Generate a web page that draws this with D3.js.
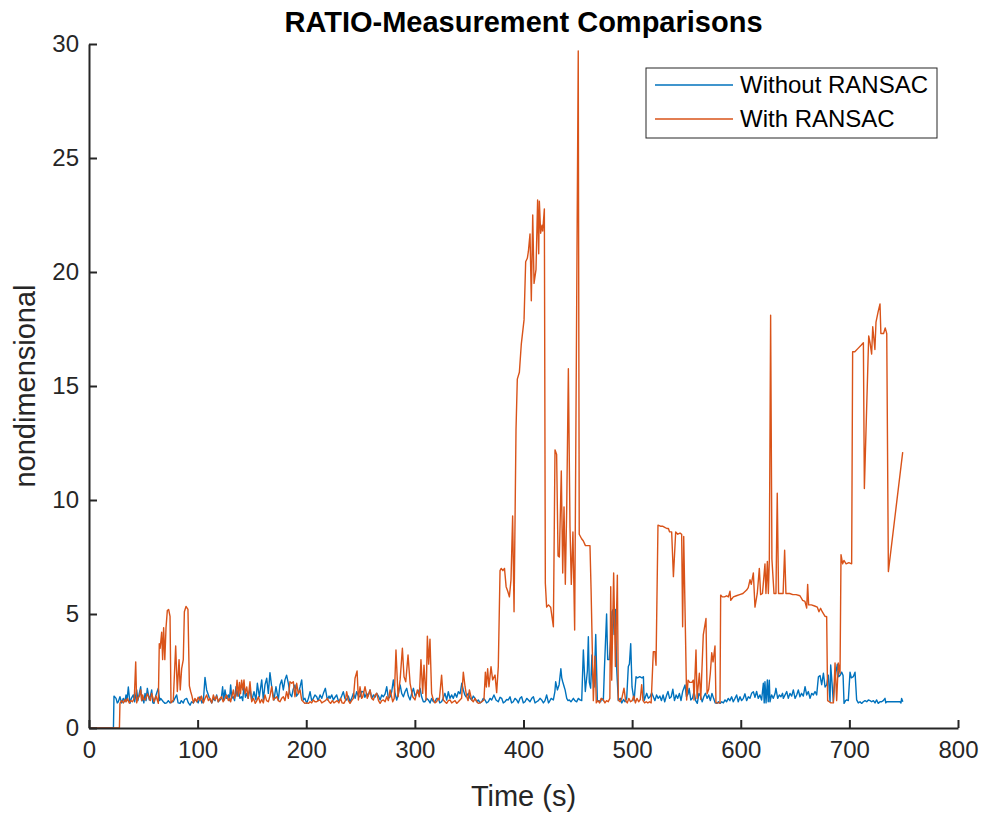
<!DOCTYPE html>
<html>
<head>
<meta charset="utf-8">
<script src="https://cdn.jsdelivr.net/npm/d3@7"></script>
<style>
  body { margin: 0; background: #fff; }
  text { font-family: "Liberation Sans", Arial, Helvetica, sans-serif; fill: #262626; }
</style>
</head>
<body>
<script>
// series: [time (s), ratio]
const withoutRansac = [
  [0,0],[22.5,0],[23,1.4],[24.9,1.3],[26,1.1],[27,1.15],[28.5,1.37],[30,1.1],[31.6,1.3],[33,1.15],[34.1,1.45],[35,1.2],
  [36.2,1.8],[37.7,1.08],[39,1.3],[40.8,1.45],[42,1.15],[43.9,1.67],[45,1.2],[46.3,1.52],[47.6,1.81],[48.5,1.2],[49.4,1.3],
  [50.5,1.1],[51.6,1.52],[52.5,1.2],[53.7,1.74],[55.5,1.23],[56.5,1.4],[57.7,1.67],[58.8,1.1],[59.8,1.08],[61.7,1.45],
  [63.8,1.74],[65,1.2],[66,1.3],[68.4,1.15],[70,1.08],[71.5,1.1],[73,1.2],[74.6,1.1],[76,1.15],[77.6,1.15],[79,1.3],
  [80.7,1.45],[82,1.1],[83.8,1.08],[85,1.2],[86.8,1.1],[88,1.25],[89.9,1.3],[91.5,1.1],[93,1.0],[94.5,1.15],[96.1,1.1],
  [97.5,1.25],[99.1,1.2],[100.5,1.1],[102.2,1.37],[104,1.1],[105.3,1.2],[106.8,2.22],[108.3,1.67],[109.9,1.45],[111.4,1.23],
  [113,1.1],[114.5,1.3],[116,1.2],[117.5,1.45],[119,1.15],[120.6,1.23],[121.8,1.3],[123,1.81],[124,1.2],[125.2,1.67],
  [126.5,1.3],[128.3,1.45],[129.3,1.2],[130.4,1.89],[131.5,1.3],[132.9,1.37],[134,1.2],[135.3,1.81],[136.3,1.4],[137.5,1.67],
  [139,1.3],[140.5,1.37],[141.5,1.2],[142.7,1.89],[144,1.35],[145.2,1.52],[146.5,1.3],[148.2,1.74],
  [149.8,1.2],[151.9,1.59],[153.7,1.23],[155,1.96],[156.8,1.37],[159,2.11],[160.5,1.23],[162,1.89],[163.6,2.18],[165.1,1.52],
  [166.6,2.43],[168.2,1.81],[170.3,1.23],[172.1,1.81],[174.3,1.23],[175.8,1.89],[177.4,2.11],[178.9,1.67],[180.4,2.11],
  [181.9,2.32],[183.5,1.96],[185,1.5],[186.6,1.37],[188,1.7],[189.6,1.89],[191,1.4],[192.7,1.52],[194.3,1.8],[195.8,2.11],
  [197.3,1.23],[198.8,1.3],[200.4,1.08],[202,1.3],[203.5,1.59],[205,1.2],[206.5,1.3],[208,1.45],[209.6,1.37],[211,1.2],
  [212.7,1.45],[214.3,1.3],[215.8,1.52],[217.6,1.74],[219.4,1.23],[221,1.4],[221.9,1.3],[223.5,1.45],[225,1.23],[226.5,1.35],
  [228,1.45],[229.5,1.2],[231.1,1.23],[232.6,1.4],[234.1,1.59],[235.6,1.3],[237.2,1.23],[238.8,1.4],[240.3,1.15],[241.8,1.3],
  [243.4,1.52],[245,1.3],[246.4,1.59],[248,1.4],[249.5,1.37],[251,1.6],[252.6,1.59],[254,1.35],[255.6,1.52],[257,1.4],
  [258.7,1.67],[260.3,1.3],[261.8,1.45],[263.3,1.35],[264.9,1.52],[266.5,1.4],[268,1.23],[269.5,1.45],[271,1.37],[272.6,1.5],
  [274.1,1.81],[275.6,1.3],[277.2,1.37],[278.7,1.6],[280.2,2.11],[281.8,1.5],[283.3,1.23],[284.8,1.5],[286.4,1.89],[288,1.5],
  [289.4,1.37],[291,1.6],[292.5,1.74],[294,1.4],[295.6,1.23],[297,1.5],[298.7,1.74],[300.2,1.4],[301.7,1.52],[303.2,1.6],
  [304.8,1.74],[306.2,1.37],[307.8,1.15],[309.3,1.15],[310.8,1.3],[312.4,1.23],[314,1.1],[315.4,1.3],[317,1.15],[318.5,1.15],
  [320,1.3],[321.6,1.3],[323,1.1],[324.6,1.15],[326,1.3],[327.7,1.52],[329.3,1.23],[330.8,1.59],[332.3,1.3],[333.9,1.45],
  [335.4,1.3],[336.9,1.52],[338.5,1.35],[340,1.59],[341.6,1.5],[343.2,1.96],[344.6,1.67],[346,1.45],[347.1,1.37],[349.2,1.52],
  [350.8,1.3],[352.3,1.23],[353.8,1.4],[355.4,1.3],[357,1.15],[358.4,1.23],[360,1.1],[361.5,1.15],[363,1.3],[364.6,1.23],
  [366,1.1],[367.6,1.15],[369.2,1.3],[370.7,1.23],[372.8,1.45],[374.7,1.23],[376.8,1.15],[378.4,1.35],[379.9,1.3],[381.4,1.1],
  [382.9,1.15],[384.5,1.25],[386,1.23],[387.6,1.37],[389,1.1],[390.6,1.15],[392.2,1.3],[393.7,1.23],[395.2,1.1],[396.8,1.3],
  [398.3,1.37],[399.8,1.1],[401.4,1.15],[403,1.3],[404.5,1.23],[406,1.15],[407.6,1.3],[409.1,1.37],[410.6,1.1],[412.1,1.15],
  [413.7,1.2],[415.2,1.3],[416.7,1.23],[418.3,1.1],[419.8,1.2],[421.3,1.45],[423,1.1],[423.8,1.15],[425.5,1.3],[427.5,1.23],
  [428.9,1.6],[429.6,2.03],[431.2,1.67],[432.8,1.9],[434.4,2.6],[435.2,2.2],[436.1,2.03],[437.5,1.8],[438.3,1.67],[439.8,1.3],
  [441,1.2],[442.2,1.23],[443.7,1.15],[445.9,1.3],[447.3,1.2],[449,1.15],[450.5,1.3],[452,1.23],[453.6,1.2],
  [455.1,3.42],[456.9,1.6],[458.8,2.5],[459.7,4.0],[460.6,2.0],[461.8,1.75],[463,3.2],[463.7,2.2],[465,1.8],[466.5,4.1],
  [468,1.2],[469.5,1.2],[471,1.15],[472,1.3],[473.5,1.2],[474.5,2.6],[476.5,5.0],[477.5,3.0],[479,3.0],[480.6,4.1],
  [481.5,5.1],[482.5,5.2],[483.4,4.1],[484.6,5.2],[485.8,2.6],[487.3,1.2],[489,1.3],[490.5,1.1],[492,1.25],[493.5,1.15],
  [495,1.3],[496.5,2.7],[497.5,2.8],[498.7,3.7],[499.9,1.8],[501.8,1.2],[503.6,2.25],[505,2.2],[507,2.25],[509,2.2],
  [510.4,2.25],[511,1.2],[513.4,1.52],[515,1.3],[516.5,1.37],[518,1.55],[519.5,1.37],[521,1.2],[522.5,1.45],[524,1.3],
  [525.5,1.4],[527,1.2],[528.5,1.45],[530,1.15],[531.5,1.4],[533,1.6],[534.5,1.3],[536,1.37],[537.5,1.7],[539,1.2],
  [540.5,1.45],[542,1.3],[543.5,1.52],[545,1.2],[546.5,1.6],[548.7,1.89],[550,1.37],[551.5,1.5],[552.5,1.74],[554,1.23],
  [555.5,1.3],[557,1.6],[558.5,1.2],[560,1.08],[561.5,1.52],[563,1.4],[564.5,1.15],[566,1.37],[567.5,1.52],[569,1.3],
  [570.5,1.45],[572,1.2],[573.5,1.52],[575,1.3],[576.5,1.1],[578,1.08],[579.5,1.15],[581,1.08],[582.5,1.15],[584,1.1],
  [585.5,1.23],[587,1.15],[588.5,1.3],[590,1.2],
  [591.6,1.37],[593.1,1.15],[594.7,1.3],[596.2,1.45],[597.7,1.15],[599.3,1.37],[600.8,1.2],[602.4,1.3],[603.9,1.5],[605.4,1.2],
  [607,1.37],[608.5,1.3],[610,1.52],[611.6,1.59],[613.1,1.35],[614.6,1.6],[616.1,1.3],[617.7,1.45],[619.2,1.23],[620.8,1.96],
  [621.6,1.1],[622.3,2.03],[623.3,1.1],[624.5,2.11],[625.3,1.15],[626.3,2.1],[626.9,1.15],[628.4,1.45],[630,1.3],[631.5,1.5],
  [632.4,1.74],[634,1.3],[635.5,1.45],[637,1.37],[638.5,1.52],[639.2,1.3],[640.8,1.45],[642.3,1.6],[643.8,1.3],[645.3,1.52],
  [646.9,1.4],[648.4,1.67],[650,1.3],[651.5,1.45],[653,1.67],[654.5,1.37],[656,1.52],[657.6,1.4],[659.2,1.81],[660.7,1.45],
  [662.2,1.6],[663.8,1.3],[665.3,1.52],[666.8,1.45],[668.4,1.6],[669.9,1.45],[671.5,2.25],[673,2.3],[674.5,1.9],[676.1,2.4],
  [677.6,1.8],[679.1,1.89],[680.6,2.32],[682.2,1.15],[682.8,2.76],[683.7,2.2],[685.2,1.15],[686.7,2.18],[688.9,2.8],[690.2,2.25],
  [691.4,2.3],[692.9,2.45],[694.2,2.3],[695.1,1.08],[696.5,1.2],[697.5,1.23],[699,1.2],[700.6,2.45],[701.8,2.2],[703.6,2.25],
  [705.2,2.45],[706.7,1.23],[708.2,1.1],[709.8,1.15],[711.3,1.08],[712.8,1.15],[714.4,1.2],[716,1.15],[717.5,1.23],[719,1.2],
  [720.5,1.15],[722.1,1.2],[723.6,1.1],[725.1,1.23],[726.6,1.08],[728.2,1.15],[729.7,1.15],[731.2,1.2],[732.8,1.3],[733.5,1.1],
  [734.3,1.15],[737.4,1.15],[740.5,1.15],[743.5,1.15],[746.6,1.15],[747.5,1.1],[748.1,1.3],[749.2,1.15]
];

const withRansac = [
  [0,0],[28,0],[28.5,1.08],[30,1.2],[31.6,1.1],[33,1.25],[34.1,1.15],[35.5,1.3],[37,1.1],[38.5,1.2],[40,1.15],[41.7,1.3],
  [43,2.9],[43.9,1.1],[45,1.3],[46.3,1.4],[47.6,1.67],[48.5,1.2],[49.4,1.45],[50.5,1.25],[51.6,1.23],[53,1.4],[53.7,1.5],
  [55.5,1.3],[56.5,1.2],[57.7,1.52],[59,1.3],[59.8,1.15],[61.7,1.4],[63.8,1.08],[64.7,3.7],[65.5,3.5],[66.9,4.2],[67.8,3.0],
  [68.7,4.4],[69.8,3.0],[70.9,4.4],[72.1,5.15],[73.3,5.2],[74.6,4.9],[75.5,1.1],[77.6,1.23],[79.8,3.6],[81.3,1.6],[82.9,3.0],
  [84,1.67],[85.3,2.6],[86.8,3.0],[87.8,5.1],[89.3,5.33],[91.1,5.2],[92.4,1.85],[93.6,1.6],[94.8,1.4],[96.1,1.1],[97.5,1.3],
  [99.1,1.15],[100.5,1.35],[102.2,1.2],[103.5,1.4],[105.3,1.1],[106.8,1.3],[108.3,1.45],[109.9,1.2],[111.4,1.3],[113,1.1],
  [114.5,1.45],[116,1.23],[117.5,1.4],[119,1.15],[120.6,1.3],[122,1.37],[123.5,1.15],[125.2,1.3],[126.5,1.45],[128.3,1.2],
  [129.5,1.3],[130.4,1.15],[132.9,1.67],[134,1.3],[135.3,1.5],[136.3,2.1],[137.5,1.4],[138.5,2.0],[139.5,1.5],[140.5,2.1],
  [141.5,1.67],[142.7,2.11],[143.7,1.5],[145.2,1.8],[146.5,1.3],[148.2,2.03],
  [149.8,1.15],[151.5,1.3],[153,1.08],[154.5,1.2],[156,1.37],[157.5,1.1],[159,1.25],[160.5,1.1],[162,1.45],[163.5,1.2],
  [165.1,1.15],[166.6,1.4],[168.2,1.81],[169.7,1.23],[171.2,1.3],[172.8,1.37],[174.3,1.2],[175.8,1.15],[177.4,1.3],[178.9,1.37],
  [180.4,1.2],[181.9,1.59],[183.5,1.3],[185,2.03],[186.6,1.96],[188.1,2.03],[189.6,1.37],[191.2,1.96],[192.7,1.5],[194.3,1.67],
  [195.8,1.23],[197.3,1.15],[198.8,1.08],[200.4,1.1],[202,1.08],[203.5,1.15],[205,1.1],[206.5,1.23],[208,1.15],[209.6,1.15],
  [211,1.2],[212.7,1.23],[214.3,1.1],[215.8,1.15],[217.6,1.2],[219.4,1.3],[221,1.15],[222.5,1.08],[224,1.2],[225.5,1.1],
  [227,1.15],[228.5,1.2],[230,1.1],[231.6,1.3],[233,1.1],[234.6,1.08],[236,1.2],[237.2,1.59],[238.8,1.2],[240.3,1.08],
  [241.8,1.2],[243.4,1.3],[244.9,2.18],[246.8,2.5],[248,1.23],[249.5,1.81],[251,1.3],[252,1.37],[254.1,1.81],[256.2,1.3],
  [258.7,1.67],[260.2,1.3],[261.8,1.23],[263.3,1.45],[264.9,1.52],[266.5,1.2],[268,1.08],[269.5,1.2],[271,1.23],[272.6,1.15],
  [274.1,1.37],[275.6,1.2],[277.2,1.67],[279.6,1.15],[281,1.3],[282.6,3.42],[284.5,1.37],[286.4,2.11],[288.5,3.5],[290,2.25],
  [291.6,2.03],[293.7,3.2],[295.6,1.96],[298,1.37],[300.1,1.23],[302.3,1.67],[304.1,1.37],[305.6,3.0],[307.2,1.52],[308.4,2.75],
  [310.3,1.23],[311.5,4.03],[312.7,2.8],[313.9,3.9],[315.4,1.52],[317,1.23],[318.5,1.1],[320,1.15],[321.3,1.3],[322.5,1.23],
  [324.6,2.32],[326.2,1.23],[327.7,1.15],[329.3,1.08],[330.8,1.2],[332.3,1.23],[333.9,1.1],[335.4,1.15],[337,1.2],[338.5,1.08],
  [340,1.15],[341.5,1.23],[343,1.3],[344.6,2.45],[346.2,1.81],[347.7,1.37],[349,1.2],[350.2,1.67],[352.3,1.23],[353.8,1.15],
  [355.4,1.3],[357,1.15],[358.4,1.08],[360,1.1],[361.5,1.15],[363.6,1.23],[364.9,2.45],[365.8,1.8],[367,2.6],[368.2,1.81],
  [370.1,2.69],[371.6,2.11],[373.8,2.32],[375.3,1.55],[376.8,2.69],
  [378.4,6.9],[379.5,7.0],[381,6.9],[382.5,7.0],[384,6.2],[385.5,6.0],[387,5.75],[388.5,6.5],[390,9.3],[391.3,5.1],
  [393.1,13.07],[394.3,15.3],[396.2,15.6],[398,16.85],[400.5,17.9],[402,20.45],[403.5,20.6],[404.5,20.9],[406,21.67],
  [407.2,18.74],[408.5,22.5],[409.7,19.5],[411.5,20.1],[413,23.16],[414,20.8],[414.6,23.1],[415.8,21.7],[417,22.05],
  [417.7,21.8],[419.2,22.77],[420.1,6.35],[421.3,5.3],[423,5.4],[425,5.3],[427.5,4.44],[429,12.2],[430.5,12.0],[431.8,7.55],
  [433,7.5],[434.8,11.27],[436.1,6.8],[437.3,9.7],[438.5,6.3],[439.8,9.7],[441.3,15.76],[442.8,8.8],[444,6.3],[445.5,8.6],
  [447.1,4.3],[450.4,29.7],[451.3,8.5],[453.5,8.3],[455.1,8.2],[457,8.0],[461.2,8.0],[462.2,6.1],[464.3,1.2],[465.8,3.15],
  [467,1.1],[468.5,1.2],[470,1.1],[471.5,1.3],[473.5,1.23],[475,1.1],[476.5,1.2],[478,1.15],[479.5,1.3],[480.3,6.2],
  [481.2,2.1],[483,6.8],[484.6,2.7],[486.4,6.7],[487.3,1.23],[489,1.15],[490.5,1.3],[492.5,1.75],[494,1.2],[495.5,1.1],
  [497,1.3],[498.5,1.15],[500,1.2],[501.5,1.4],[503,1.1],[504.5,1.3],[506,1.15],[507.5,1.25],[508.8,1.9],[510,1.2],
  [511.5,1.1],[513,1.15],[514.5,1.1],[516,1.15],[517.5,1.1],[519.5,3.35],[521,3.35],[522,2.75],[523.8,8.9],[526,8.85],
  [528,8.85],[530,8.8],[532,8.75],[533.4,8.75],[534.5,8.6],[536.4,8.6],[538,6.64],[540.1,8.6],[542,8.5],[544.1,8.55],
  [545.6,8.5],[546.5,4.44],[547.5,8.4],[550.2,1.23],[551.5,2.1],[553,2.0],[555,2.0],[556.3,2.1],[557,1.23],[558.8,3.42],
  [559.8,1.3],[561.9,2.4],[563.2,1.25],[565.5,4.08],[568,4.8],[569,1.5],[570.5,1.7],[572,2.4],[573.3,3.3],[574.5,2.9],
  [576.3,3.6],[577.2,1.1],[578.5,1.1],[580.9,1.1],[581.5,5.83],[583,5.75],[585,5.75],[587,5.8],[588.6,5.75],[590.1,6.0],
  [590.8,5.6],[593.2,5.75],[596,5.8],[599,5.85],[602,5.9],[605.4,6.05],[606.9,6.16],[608.5,6.5],[609.7,6.3],[611.6,6.8],
  [613.1,5.3],[615.2,5.9],[617.1,7.0],[618.3,5.85],[620,5.9],[622.3,7.2],[623.2,5.9],[624.5,7.3],[625.4,5.9],[626.3,7.35],
  [627.5,18.1],[628.7,7.4],[630.6,5.9],[632.4,5.9],[633.6,10.3],[634.8,5.9],[637,5.9],[639,5.9],[640.4,7.8],[641.6,5.9],
  [645,5.9],[648,5.85],[651,5.85],[654.5,5.8],[657,5.6],[659.1,5.55],[660.7,5.26],[661.6,6.3],[662.5,5.4],[665,5.4],
  [668,5.35],[670.5,5.3],[672,5.1],[673.5,5.25],[675,5.1],[677.6,4.9],[679.1,4.88],[680,1.2],[681.5,1.15],[683,1.1],
  [685.3,1.1],[686.8,2.85],[688.3,1.2],[689.8,2.85],[691.4,2.4],[692.3,7.6],[693.8,7.2],[695,7.35],[697,7.2],[699.5,7.25],
  [702.1,7.2],[703,16.5],[705,16.5],[708,16.65],[711,16.8],[712.9,16.9],[713.8,10.5],[717.8,17.2],[719,16.9],[720.5,16.4],
  [721.5,17.6],[723.5,16.6],[724.5,17.8],[726.5,18.26],[728.2,18.6],[729,17.3],[731.5,17.3],[733,17.55],[734.4,17.3],
  [735.9,6.86],[749.1,12.1]
];

const xTicks = [0, 100, 200, 300, 400, 500, 600, 700, 800];
const yTicks = [0, 5, 10, 15, 20, 25, 30];
const seriesNames = ["Without RANSAC", "With RANSAC"];
const seriesColors = ["#0072BD", "#D95319"];

const width = 984, height = 813;
const margin = {left: 89, right: 26, top: 44, bottom: 85};

const svg = d3.select("body").append("svg")
  .attr("width", width).attr("height", height);

svg.append("rect").attr("width", width).attr("height", height).attr("fill", "#fff");

const x = d3.scaleLinear().domain([0, 800]).range([margin.left, width - margin.right]);
const y = d3.scaleLinear().domain([0, 30]).range([height - margin.bottom, margin.top]);

// lines (blue first, orange drawn on top)
const line = d3.line().x(d => x(d[0])).y(d => y(d[1]));
[withoutRansac, withRansac].forEach((s, i) => {
  svg.append("path")
    .datum(s)
    .attr("fill", "none")
    .attr("stroke", seriesColors[i])
    .attr("stroke-width", 1.4)
    .attr("stroke-linejoin", "round")
    .attr("d", line);
});

// axes, ticks pointing inward like matlab
const xAxis = d3.axisBottom(x).tickValues(xTicks).tickSizeInner(-8).tickSizeOuter(0).tickPadding(13);
const yAxis = d3.axisLeft(y).tickValues(yTicks).tickSizeInner(-8).tickSizeOuter(0).tickPadding(10);

const gx = svg.append("g").attr("transform", `translate(0,${y(0)})`).call(xAxis);
const gy = svg.append("g").attr("transform", `translate(${x(0)},0)`).call(yAxis);

[gx, gy].forEach(g => {
  g.select(".domain").attr("stroke", "#262626").attr("stroke-width", 2);
  g.selectAll(".tick line").attr("stroke", "#262626").attr("stroke-width", 2);
  g.selectAll(".tick text")
    .attr("fill", "#262626")
    .style("font-family", '"Liberation Sans", Arial, sans-serif')
    .style("font-size", "24px");
});

// title and labels
svg.append("text")
  .attr("x", (x(0) + x(800)) / 2).attr("y", 32)
  .attr("text-anchor", "middle")
  .style("font-size", "29px").style("font-weight", "bold").style("fill", "#000")
  .text("RATIO-Measurement Comparisons");

svg.append("text")
  .attr("x", (x(0) + x(800)) / 2).attr("y", 806)
  .attr("text-anchor", "middle")
  .style("font-size", "29px")
  .text("Time (s)");

svg.append("text")
  .attr("transform", `translate(35,${(y(0) + y(30)) / 2}) rotate(-90)`)
  .attr("text-anchor", "middle")
  .style("font-size", "29px")
  .text("nondimensional");

// legend
const lg = svg.append("g").attr("transform", "translate(646,68)");
lg.append("rect")
  .attr("width", 291).attr("height", 70)
  .attr("fill", "#fff").attr("stroke", "#262626").attr("stroke-width", 1);

seriesNames.forEach((name, i) => {
  const yy = 17 + i * 34;
  lg.append("line")
    .attr("x1", 9).attr("x2", 87).attr("y1", yy).attr("y2", yy)
    .attr("stroke", seriesColors[i]).attr("stroke-width", 1.4);
  lg.append("text")
    .attr("x", 94).attr("y", yy).attr("dy", "0.35em")
    .style("font-size", "24px").style("fill", "#000")
    .text(name);
});
</script>
</body>
</html>
